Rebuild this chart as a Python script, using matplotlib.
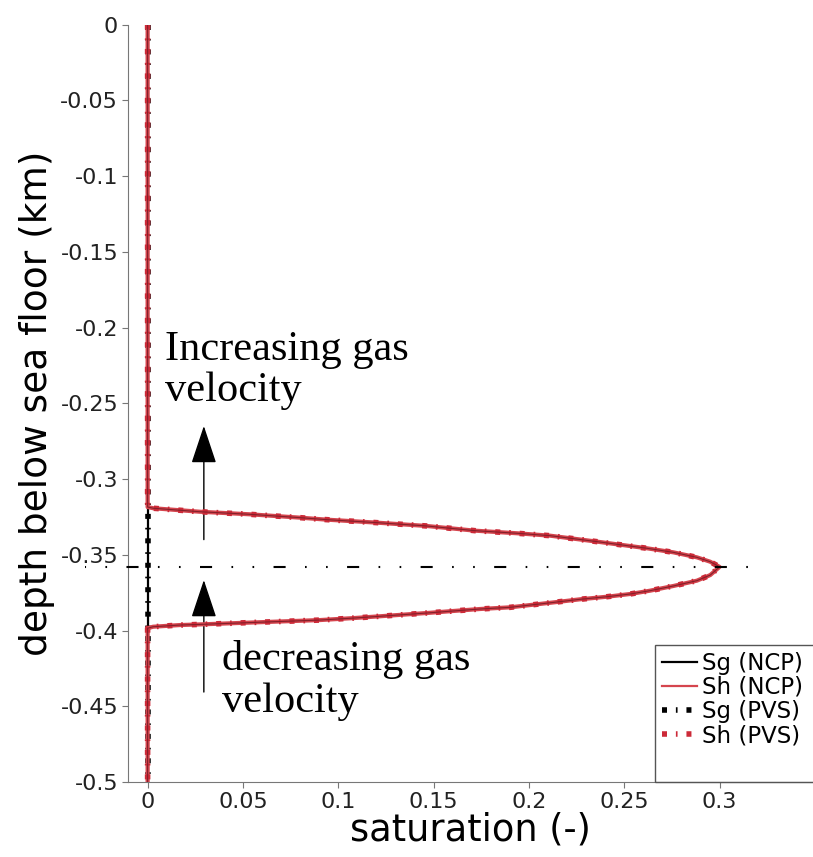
import matplotlib
matplotlib.use("Agg")
import matplotlib.pyplot as plt
from matplotlib.lines import Line2D
from matplotlib.patches import Rectangle

plt.rcParams['font.family'] = ['DejaVu Sans']
plt.rcParams['axes.unicode_minus'] = False

# hydrate saturation profile (depth in km, negative downwards)
sh_depth = [0.0, -0.3185, -0.3193, -0.3216, -0.3233, -0.3255, -0.3268, -0.3288, -0.3310,
            -0.3341, -0.3358, -0.3374, -0.3416, -0.3457, -0.3484, -0.3517, -0.3546, -0.3580,
            -0.3634, -0.3671, -0.3706, -0.3737, -0.3759, -0.3777, -0.3794, -0.3812, -0.3832,
            -0.3847, -0.3858, -0.3871, -0.3883, -0.3906, -0.3918, -0.3931, -0.3946, -0.3959,
            -0.3964, -0.3975, -0.3985, -0.5]
sh_sat = [0.0, 0.0, 0.003, 0.0274, 0.0537, 0.0799, 0.0936, 0.1202, 0.1464,
          0.1717, 0.1936, 0.2111, 0.2373, 0.2618, 0.2758, 0.2881, 0.2951, 0.300,
          0.2951, 0.2881, 0.2758, 0.2636, 0.2531, 0.2409, 0.2268, 0.2146, 0.2006,
          0.1901, 0.1744, 0.1604, 0.1481, 0.1219, 0.1079, 0.0904, 0.0572, 0.0292,
          0.0169, 0.0029, 0.0, 0.0]

# gas saturation stays at zero over the whole column
sg_depth = [0.0, -0.5]
sg_sat = [0.0, 0.0]

peak_depth = -0.358

yticks = [0, -0.05, -0.1, -0.15, -0.2, -0.25, -0.3, -0.35, -0.4, -0.45, -0.5]
ylabels = ['0', '-0.05', '-0.1', '-0.15', '-0.2', '-0.25', '-0.3', '-0.35', '-0.4', '-0.45', '-0.5']
xticks = [0, 0.05, 0.1, 0.15, 0.2, 0.25, 0.3]
xlabels = ['0', '0.05', '0.1', '0.15', '0.2', '0.25', '0.3']

RED = '#cc2a38'
RED_LINE = '#d5454e'
pvs_style = (0, (0.9, 1.6, 0.3, 1.6))

fig = plt.figure(figsize=(8.13, 8.57), dpi=100)
ax = fig.add_axes([0.1574, 0.0875, 0.8426, 0.8839])

# gas curves first, hydrate curves drawn over them
ax.plot(sg_sat, sg_depth, color='black', lw=4, linestyle=pvs_style, zorder=2)
ax.plot(sg_sat, sg_depth, color='black', lw=1.6, zorder=3)
ax.plot(sh_sat, sh_depth, color=RED_LINE, lw=3, zorder=4)
ax.plot(sh_sat, sh_depth, color=RED, lw=4, linestyle=pvs_style, zorder=5)
ax.plot(sh_sat, sh_depth, color='#82202a', lw=0.8, zorder=6)

# dash-dot marker at the saturation peak
ax.plot([-0.0329, 0.3222], [peak_depth, peak_depth], color='black', lw=1.5,
        linestyle=(15.4, (5.8, 9.3, 0.8, 9.3, 0.8, 9.3)), clip_on=False, zorder=7)

arrow = dict(arrowstyle='-|>,head_length=1.2,head_width=0.4', mutation_scale=20,
             color='black', lw=1, shrinkA=0, shrinkB=0)
ax.annotate('', xy=(0.0295, -0.265), xytext=(0.0295, -0.340), arrowprops=arrow)
ax.annotate('', xy=(0.0295, -0.3667), xytext=(0.0295, -0.4406), arrowprops=arrow)

ax.text(0.0091, -0.2017, 'Increasing gas\nvelocity', family='Liberation Serif',
        fontsize=30.5, ha='left', va='top', linespacing=1.1)
ax.text(0.0390, -0.4063, 'decreasing gas\nvelocity', family='Liberation Serif',
        fontsize=30.5, ha='left', va='top', linespacing=1.1)

ax.set_xlim(-0.0103, 0.349)
ax.set_ylim(-0.5, 0)
ax.set_yticks(yticks)
ax.set_yticklabels(ylabels)
ax.set_xticks(xticks)
ax.set_xticklabels(xlabels)
ax.tick_params(length=4, color='#777777', labelsize=16, labelcolor='#222222', pad=3)
for side in ['top', 'right']:
    ax.spines[side].set_visible(False)
for side in ['left', 'bottom']:
    ax.spines[side].set_color('#777777')

ax.set_xlabel('saturation (-)', fontsize=26.5, labelpad=0)
ax.set_ylabel('depth below sea floor (km)', fontsize=27, labelpad=4)

handles = [Line2D([], [], color='black', lw=1.6),
           Line2D([], [], color=RED_LINE, lw=1.6),
           Line2D([], [], color='black', lw=4, linestyle=pvs_style),
           Line2D([], [], color=RED, lw=4, linestyle=pvs_style)]
names = ['Sg (NCP)', 'Sh (NCP)', 'Sg (PVS)', 'Sh (PVS)']
ax.legend(handles, names, loc='upper left', bbox_to_anchor=(0.7693, 0.181),
          frameon=False, fontsize=16.5, handlelength=1.55, handletextpad=0.2,
          labelspacing=0.05, borderpad=0.3, borderaxespad=0)
ax.add_patch(Rectangle((0.7693, 0), 0.26, 0.181, transform=ax.transAxes, fill=False,
                       edgecolor='#555555', lw=1, clip_on=False, zorder=8))

fig.savefig('out.png', dpi=100)
